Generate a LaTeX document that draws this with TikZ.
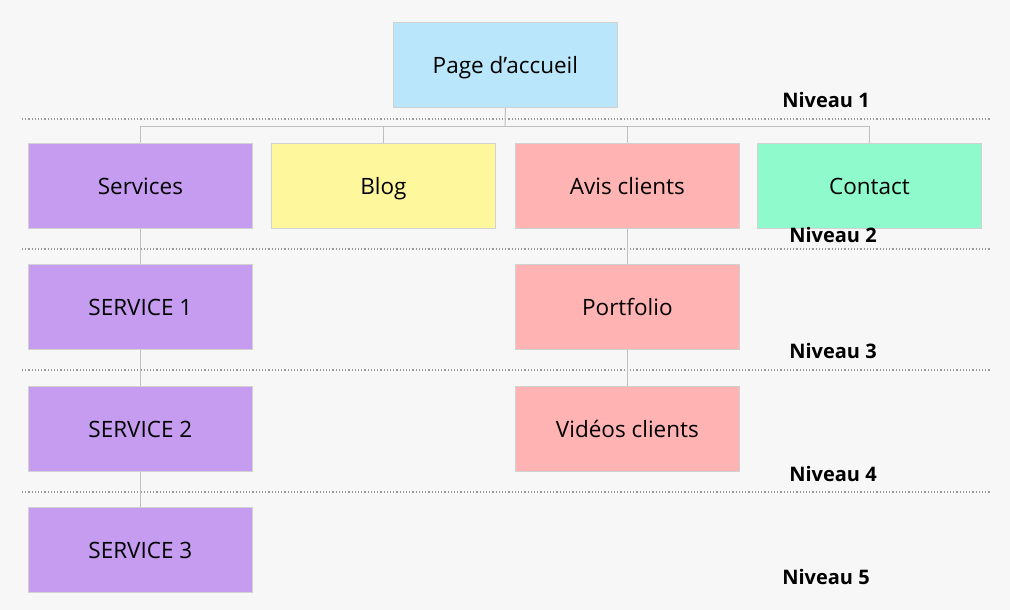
\documentclass[tikz,border=0pt]{standalone}
\usepackage{fontspec}
\setmainfont{Open Sans}
\begin{document}
\begin{tikzpicture}[x=1pt,y=-1pt,
  box/.style={draw=black!18,line width=0.8pt,minimum width=224pt,minimum height=85pt,anchor=north west,inner sep=0pt,text depth=0pt,font=\fontsize{22.5}{26}\selectfont},
  lvl/.style={font=\bfseries\fontsize{20}{24}\selectfont},
  dot/.style={draw=black!40,dotted,line width=1.2pt},
  con/.style={draw=black!25,line width=1pt}]
\definecolor{cb}{HTML}{B9E6FA}\definecolor{cp}{HTML}{C69CF0}\definecolor{cy}{HTML}{FFF79C}
\definecolor{cr}{HTML}{FFB3B3}\definecolor{cg}{HTML}{8FFBCC}
\fill[black!3] (0,0) rectangle (1010,610);
\useasboundingbox (0,0) rectangle (1010,610);
\foreach \y in {119,249,370,492} \draw[dot] (22,\y) -- (990,\y);
\node[box,fill=cb] (home) at (393,22) {Page d\char39accueil};
\node[box,fill=cp] (serv) at (28,143) {Services};
\node[box,fill=cy] (blog) at (271,143) {Blog};
\node[box,fill=cr] (avis) at (515,143) {Avis clients};
\node[box,fill=cg] (cont) at (757,143) {Contact};
\node[box,fill=cp] (s1) at (28,264) {SERVICE 1};
\node[box,fill=cr] (port) at (515,264) {Portfolio};
\node[box,fill=cp] (s2) at (28,386) {SERVICE 2};
\node[box,fill=cr] (vid) at (515,386) {Vidéos clients};
\node[box,fill=cp] (s3) at (28,507) {SERVICE 3};
\coordinate (j) at (505,126);
\draw[con] (home.south) -- (j);
\foreach \n in {serv,blog,avis,cont} \draw[con] (j) -| (\n.north);
\draw[con] (serv) -- (s1); \draw[con] (s1) -- (s2); \draw[con] (s2) -- (s3);
\draw[con] (avis) -- (port); \draw[con] (port) -- (vid);
\node[lvl] (n1) at (826,100) {Niveau 1};
\node[lvl] (n2) at (833,235) {Niveau 2};
\node[lvl] (n3) at (833,351) {Niveau 3};
\node[lvl] (n4) at (833,474) {Niveau 4};
\node[lvl] (n5) at (826,577) {Niveau 5};
\end{tikzpicture}
\end{document}
